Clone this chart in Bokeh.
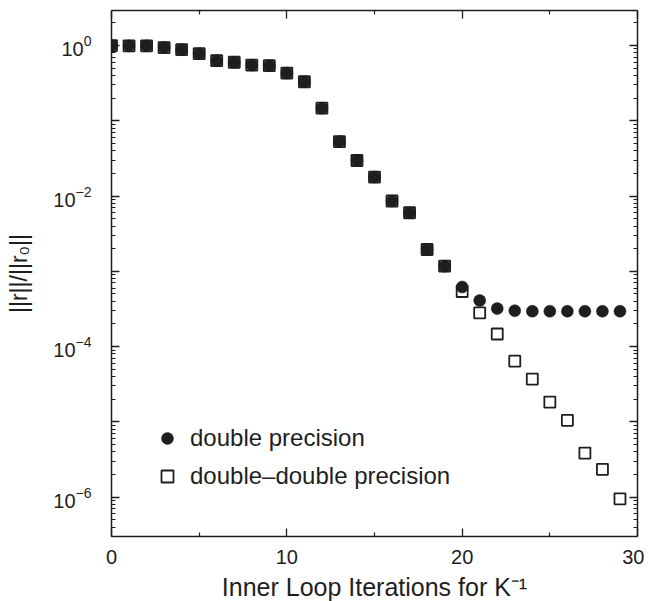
from bokeh.plotting import figure
from bokeh.models import (LogAxis, LinearAxis, FixedTicker, LogTickFormatter,
                          Legend, LegendItem, Range1d, ColumnDataSource)
from bokeh.embed import file_html
from bokeh.resources import INLINE

# ---- data ----
iterations = list(range(30))
double_precision = [1.0, 0.99, 0.99, 0.94, 0.88, 0.78, 0.63, 0.60, 0.55, 0.54,
                    0.43, 0.33, 0.147, 0.053, 0.0297, 0.0179, 0.0086, 0.0060,
                    0.00195, 0.00117, 0.00062, 0.00041, 0.00032, 0.00030,
                    0.000295, 0.000295, 0.000295, 0.000295, 0.000295, 0.000295]
double_double_precision = [1.0, 0.99, 0.99, 0.94, 0.88, 0.78, 0.63, 0.60, 0.55, 0.54,
                           0.43, 0.33, 0.147, 0.053, 0.0297, 0.0179, 0.0086, 0.0060,
                           0.00195, 0.00117, 0.00054, 0.00028, 0.000147, 6.4e-5,
                           3.7e-5, 1.83e-5, 1.05e-5, 3.85e-6, 2.34e-6, 9.5e-7]

x_major_ticks = [0, 10, 20, 30]
x_minor_ticks = [5, 15, 25]
y_decade_ticks = [1e0, 1e-1, 1e-2, 1e-3, 1e-4, 1e-5, 1e-6]
y_unlabeled_decades = [1e-1, 1e-3, 1e-5]
y_minor_ticks = [k * 10.0 ** e for e in range(-7, 1) for k in range(2, 10)]

FONT = "Liberation Sans"
INK = "#1e1e1e"

source = ColumnDataSource(dict(x=iterations, dp=double_precision, ddp=double_double_precision))

p = figure(frame_width=526, frame_height=526, output_backend="svg", toolbar_location=None,
           y_axis_type="log", x_range=Range1d(0, 30), y_range=Range1d(3.0e-7, 2.92),
           min_border_left=111, min_border_top=10, min_border_right=7, min_border_bottom=62)
p.xgrid.visible = False
p.ygrid.visible = False
p.outline_line_color = None
p.background_fill_color = "white"
p.border_fill_color = "white"

sq = p.scatter("x", "ddp", source=source, marker="square", size=11,
               fill_color="white", line_color=INK, line_width=1.8)
circ = p.scatter("x", "dp", source=source, marker="circle", size=12,
                 fill_color=INK, line_color=INK, line_width=0.5)

def style_axis(ax, labels=True):
    ax.axis_line_color = INK
    ax.axis_line_width = 1.5
    ax.major_tick_line_color = INK
    ax.minor_tick_line_color = INK
    ax.major_tick_line_width = 1.3
    ax.minor_tick_line_width = 1.2
    ax.major_tick_in = 8
    ax.major_tick_out = 0
    ax.minor_tick_in = 4
    ax.minor_tick_out = 0
    ax.major_label_text_font = FONT
    ax.major_label_text_color = INK
    if labels:
        ax.major_label_text_font_size = "20px"
    else:
        ax.major_label_text_font_size = "1px"
        ax.major_label_text_alpha = 0
        ax.major_label_standoff = 0

xticker = FixedTicker(ticks=x_major_ticks, minor_ticks=x_minor_ticks)
yticker = FixedTicker(ticks=y_decade_ticks, minor_ticks=y_minor_ticks)

xa = p.xaxis[0]
xa.ticker = xticker
style_axis(xa)
xa.major_label_standoff = 13
xa.axis_label = "Inner Loop Iterations for K\u207b\u00b9"
xa.axis_label_text_font = FONT
xa.axis_label_text_font_size = "25px"
xa.axis_label_text_font_style = "normal"
xa.axis_label_text_color = INK
xa.axis_label_standoff = 6

ya = p.yaxis[0]
ya.ticker = yticker
ya.formatter = LogTickFormatter()
ya.major_label_overrides = {v: "" for v in y_unlabeled_decades}
style_axis(ya)
ya.major_label_standoff = 20
ya.axis_label = "||r||/||r\u2080||"
ya.axis_label_text_font = FONT
ya.axis_label_text_font_size = "23px"
ya.axis_label_text_font_style = "normal"
ya.axis_label_text_color = INK
ya.axis_label_standoff = 18

top = LinearAxis(ticker=xticker)
style_axis(top, labels=False)
p.add_layout(top, "above")

right = LogAxis(ticker=yticker)
style_axis(right, labels=False)
p.add_layout(right, "right")

legend = Legend(items=[LegendItem(label="double precision", renderers=[circ]),
                       LegendItem(label="double\u2013double precision", renderers=[sq])],
                location=(41, 45), border_line_color=None, background_fill_alpha=0,
                label_text_font=FONT, label_text_font_size="24px", label_text_color=INK,
                glyph_width=30, glyph_height=30, label_height=30, spacing=8,
                padding=0, margin=0, label_standoff=8)
p.add_layout(legend)

open("out.html", "w").write(file_html(p, INLINE))
